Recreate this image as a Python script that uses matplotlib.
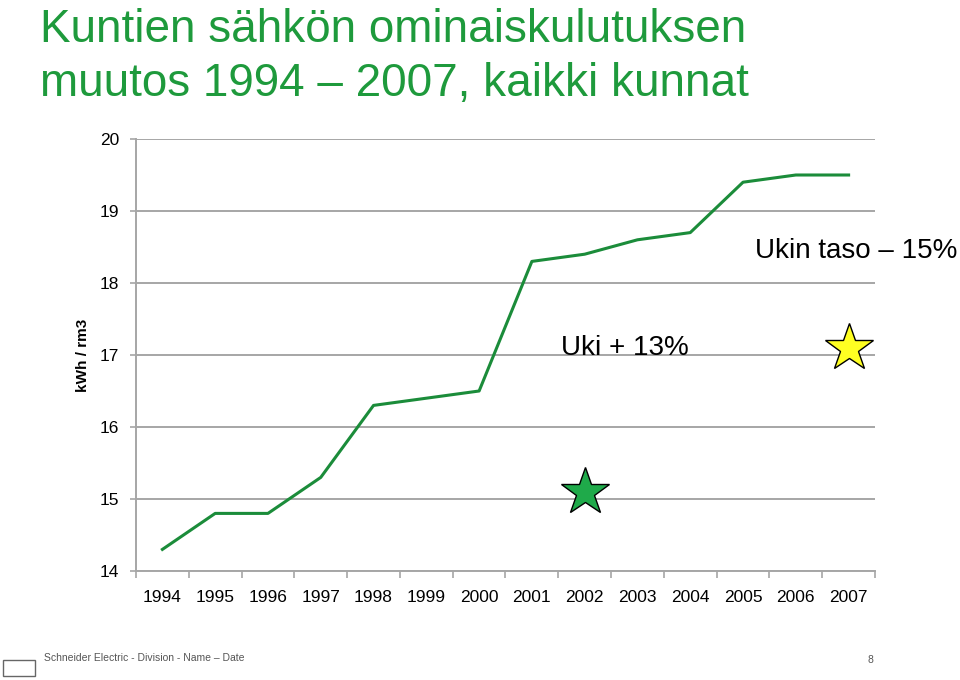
import matplotlib
matplotlib.use("Agg")
import matplotlib.pyplot as plt
import matplotlib.patches as patches

plt.rcParams['font.family'] = ['Liberation Sans', 'DejaVu Sans']

years = ['1994', '1995', '1996', '1997', '1998', '1999', '2000',
         '2001', '2002', '2003', '2004', '2005', '2006', '2007']
kwh = [14.3, 14.8, 14.8, 15.3, 16.3, 16.4, 16.5,
       18.3, 18.4, 18.6, 18.7, 19.4, 19.5, 19.5]
yticks = [14, 15, 16, 17, 18, 19, 20]

# star markers: (year index, value)
star_green = (8, 15.1)
star_yellow = (13, 17.1)

title_lines = ['Kuntien sähkön ominaiskulutuksen',
               'muutos 1994 \u2013 2007, kaikki kunnat']
note_uki = 'Uki + 13%'
note_taso = 'Ukin taso \u2013 15%'
footer = 'Schneider Electric - Division - Name \u2013 Date'
page_no = '8'

green = '#1e9a3c'
line_green = '#1b8c3a'
grid_grey = '#a6a6a6'

fig = plt.figure(figsize=(9.6, 6.8), dpi=100)
ax = fig.add_axes([136 / 960, 109 / 680, 739 / 960, 432 / 680])

x = list(range(len(years)))
ax.plot(x, kwh, color=line_green, lw=2.2, zorder=3)

ax.set_xlim(-0.5, len(years) - 0.5)
ax.set_ylim(14, 20)
ax.set_yticks(yticks)
ax.set_yticklabels([str(v) for v in yticks], fontsize=12.5)
ax.set_xticks(x)
ax.set_xticklabels(years, fontsize=12.5)
ax.set_xticks([i - 0.5 for i in range(len(years) + 1)], minor=True)
ax.tick_params(axis='x', which='major', length=0, pad=14)
ax.tick_params(axis='x', which='minor', length=5, color=grid_grey, width=1.2)
ax.tick_params(axis='y', length=4, color=grid_grey, width=1.2, pad=8)
ax.yaxis.grid(True, color=grid_grey, lw=1.4)
ax.set_axisbelow(True)
for s in ['top', 'right']:
    ax.spines[s].set_visible(False)
for s in ['left', 'bottom']:
    ax.spines[s].set_color(grid_grey)
    ax.spines[s].set_linewidth(1.4)

ax.set_ylabel('kWh / rm3', fontsize=11, fontweight='bold', labelpad=7)

ax.plot(*star_green, marker='*', ms=36, mfc='#1faa4a', mec='black',
        mew=1, clip_on=False, zorder=4)
ax.plot(*star_yellow, marker='*', ms=36, mfc='#ffff22', mec='black',
        mew=1, clip_on=False, zorder=4)

fig.text(561 / 960, 1 - 348 / 680, note_uki, fontsize=20, va='center')
fig.text(755 / 960, 1 - 251 / 680, note_taso, fontsize=20, va='center')

fig.text(40 / 960, 1 - 42 / 680, title_lines[0], fontsize=33,
         color=green, va='baseline')
fig.text(40 / 960, 1 - 96 / 680, title_lines[1], fontsize=33,
         color=green, va='baseline')

# footer
fig.patches.append(patches.Rectangle((3 / 960, 1 - 676 / 680), 32 / 960, 16 / 680,
                                     transform=fig.transFigure, fill=False,
                                     ec='#666666', lw=1))
fig.text(44 / 960, 1 - 658 / 680, footer, fontsize=7.5, color='#555555',
         va='center')
fig.text(867 / 960, 1 - 660 / 680, page_no, fontsize=7.5, color='#555555',
         va='center')

fig.savefig('out.png', dpi=100)
